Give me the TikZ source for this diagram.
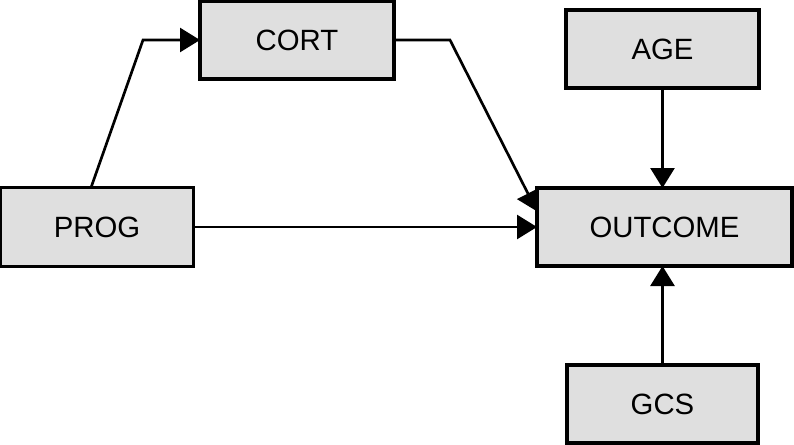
\documentclass[tikz,border=0pt]{standalone}
\usepackage{fontspec}
\setmainfont{Liberation Sans}
\usetikzlibrary{arrows.meta}

\definecolor{boxgray}{HTML}{DFDFDF}

\begin{document}
\begin{tikzpicture}[
  x=0.75pt,
  y=-0.75pt,
  line join=miter,
  varbox/.style={draw=black,fill=boxgray,line width=2.6pt,outer sep=0pt,
    inner sep=0pt,font=\fontsize{22}{26}\selectfont},
  link/.style={draw=black,line width=2pt,
    -{Triangle[length=15pt,width=18pt]}}
]
  % Match the original artwork frame.
  \useasboundingbox (0,0) rectangle (794,444);

  % Variable boxes.
  \node[varbox,minimum width=145.5pt,minimum height=58.5pt] (CORT) at (297,40) {CORT};
  \node[varbox,minimum width=144.75pt,minimum height=58.5pt] (AGE) at (662.5,49) {AGE};
  \node[varbox,minimum width=144.75pt,minimum height=59pt] (PROG) at (97,227) {PROG};
  \node[varbox,minimum width=191.25pt,minimum height=58.5pt] (OUTCOME) at (664.5,227) {OUTCOME};
  \node[varbox,minimum width=143.25pt,minimum height=58.5pt] (GCS) at (662.5,404) {GCS};

  % Bend points of the elbowed connectors.
  \coordinate (progBend) at (143,40);
  \coordinate (cortBend) at (450,40);

  % Paths into CORT and OUTCOME.
  \draw[link] ([xshift=-4.5pt]PROG.north) -- (progBend) -- (CORT.west);
  \draw[link] (CORT.east) -- (cortBend) -- (OUTCOME.173);
  \draw[link] (PROG.east) -- (PROG.east -| OUTCOME.west);
  \draw[link] (AGE.south) -- (AGE.south |- OUTCOME.north);
  \draw[link] (GCS.north) -- (GCS.north |- OUTCOME.south);
\end{tikzpicture}
\end{document}
